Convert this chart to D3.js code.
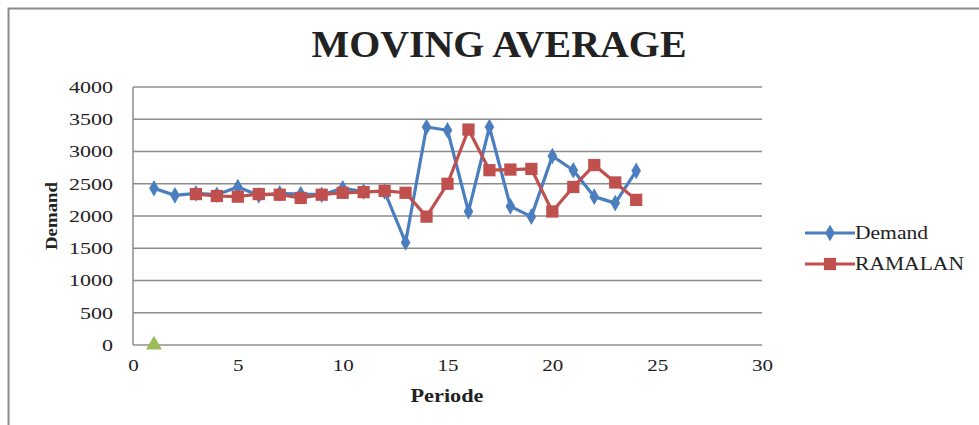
<!DOCTYPE html>
<html><head><meta charset="utf-8">
<script src="https://cdn.jsdelivr.net/npm/d3@7"></script>
<style>body{margin:0;background:#fff}svg{display:block}text{font-family:"Liberation Serif","Times New Roman",serif;fill:#222}</style>
</head><body>
<svg id="c" width="979" height="425"></svg>
<script>
const demandPeriods = [1,2,3,4,5,6,7,8,9,10,11,12,13,14,15,16,17,18,19,20,21,22,23,24];
const demand = [2430,2320,2350,2330,2450,2320,2350,2340,2330,2430,2380,2380,1590,3380,3330,2070,3380,2150,1990,2930,2710,2300,2200,2700];
const ramalanPeriods = [3,4,5,6,7,8,9,10,11,12,13,14,15,16,17,18,19,20,21,22,23,24];
const ramalan = [2340,2310,2300,2340,2330,2280,2330,2360,2370,2390,2360,1990,2500,3340,2710,2720,2730,2070,2450,2790,2520,2250];
const extraPeriods = [1];
const extra = [0];
const xTicks = [0,5,10,15,20,25,30];
const yTicks = [0,500,1000,1500,2000,2500,3000,3500,4000];
const seriesNames = ["Demand","RAMALAN"];

const svg = d3.select("#c");
const L=133,R=762,T=87,B=345;
const x = d3.scaleLinear().domain([0,30]).range([L,R]);
const y = d3.scaleLinear().domain([0,4000]).range([B,T]);
const blue="#4a7ebf", red="#c0504d", green="#9bbb59";

// frame
svg.append("rect").attr("x",8.5).attr("y",8.5).attr("width",990).attr("height",440)
  .attr("fill","none").attr("stroke","#8a8a8a").attr("stroke-width",2);

// title
svg.append("text").attr("x",499).attr("y",57).attr("text-anchor","middle")
  .attr("font-size",37).attr("font-weight","bold").attr("fill","#111")
  .attr("textLength",375).attr("lengthAdjust","spacingAndGlyphs").text("MOVING AVERAGE");

// gridlines
svg.append("g").selectAll("line").data(yTicks).join("line")
  .attr("x1",L).attr("x2",R).attr("y1",d=>y(d)).attr("y2",d=>y(d))
  .attr("stroke","#8c8c8c").attr("stroke-width",1.5);
svg.append("line").attr("x1",L).attr("x2",L).attr("y1",T).attr("y2",B)
  .attr("stroke","#8c8c8c").attr("stroke-width",1.5);

// axes labels using d3 axes
const fmt = d3.format("d");
const yAxis = svg.append("g").attr("transform",`translate(${L},0)`)
  .call(d3.axisLeft(y).tickValues(yTicks).tickFormat(fmt).tickSize(0).tickPadding(20));
yAxis.select(".domain").remove();
yAxis.selectAll("text").attr("font-size",17).attr("fill","#222").style("font-family","Liberation Serif")
  .attr("textLength",d=>fmt(d).length*11).attr("lengthAdjust","spacingAndGlyphs");
const xAxis = svg.append("g").attr("transform",`translate(0,${B})`)
  .call(d3.axisBottom(x).tickValues(xTicks).tickFormat(fmt).tickSize(0).tickPadding(14));
xAxis.select(".domain").remove();
xAxis.selectAll("text").attr("font-size",17).attr("fill","#222").style("font-family","Liberation Serif")
  .attr("textLength",d=>fmt(d).length*10.5).attr("lengthAdjust","spacingAndGlyphs");

// axis titles
svg.append("text").attr("transform","translate(57,216) rotate(-90)").attr("text-anchor","middle")
  .attr("font-size",17).attr("font-weight","bold").attr("fill","#111")
  .attr("textLength",68).attr("lengthAdjust","spacingAndGlyphs").text("Demand");
svg.append("text").attr("x",447).attr("y",402).attr("text-anchor","middle")
  .attr("font-size",18).attr("font-weight","bold").attr("fill","#111")
  .attr("textLength",73).attr("lengthAdjust","spacingAndGlyphs").text("Periode");

const line = d3.line().x(d=>x(d[0])).y(d=>y(d[1]));
const dData = demandPeriods.map((p,i)=>[p,demand[i]]);
const rData = ramalanPeriods.map((p,i)=>[p,ramalan[i]]);
const eData = extraPeriods.map((p,i)=>[p,extra[i]]);

svg.append("path").datum(dData).attr("d",line).attr("fill","none").attr("stroke",blue).attr("stroke-width",3.2).attr("stroke-linejoin","round");
svg.append("path").datum(rData).attr("d",line).attr("fill","none").attr("stroke",red).attr("stroke-width",3.2).attr("stroke-linejoin","round");

const diamond = d3.symbol().type(d3.symbolDiamond).size(80);
const square = d3.symbol().type(d3.symbolSquare).size(150);
const tri = d3.symbol().type(d3.symbolTriangle).size(110);

svg.append("g").selectAll("path").data(dData).join("path")
  .attr("transform",d=>`translate(${x(d[0])},${y(d[1])})`).attr("d",diamond).attr("fill",blue);
svg.append("g").selectAll("path").data(rData).join("path")
  .attr("transform",d=>`translate(${x(d[0])},${y(d[1])})`).attr("d",square).attr("fill",red);
svg.append("g").selectAll("path").data(eData).join("path")
  .attr("transform",d=>`translate(${x(d[0])},${y(d[1])})`).attr("d",tri).attr("fill",green);

// legend
const leg = svg.append("g");
const legY = [233,264];
const legColors=[blue,red];
const legSym=[diamond,square];
const legW=[73,109];
seriesNames.forEach((n,i)=>{
  leg.append("line").attr("x1",805).attr("x2",855).attr("y1",legY[i]).attr("y2",legY[i]).attr("stroke",legColors[i]).attr("stroke-width",3);
  leg.append("path").attr("transform",`translate(830,${legY[i]})`).attr("d",legSym[i]).attr("fill",legColors[i]);
  leg.append("text").attr("x",855).attr("y",legY[i]+6).attr("font-size",18).attr("fill","#222")
    .attr("textLength",legW[i]).attr("lengthAdjust","spacingAndGlyphs").text(n);
});
</script>
</body></html>
